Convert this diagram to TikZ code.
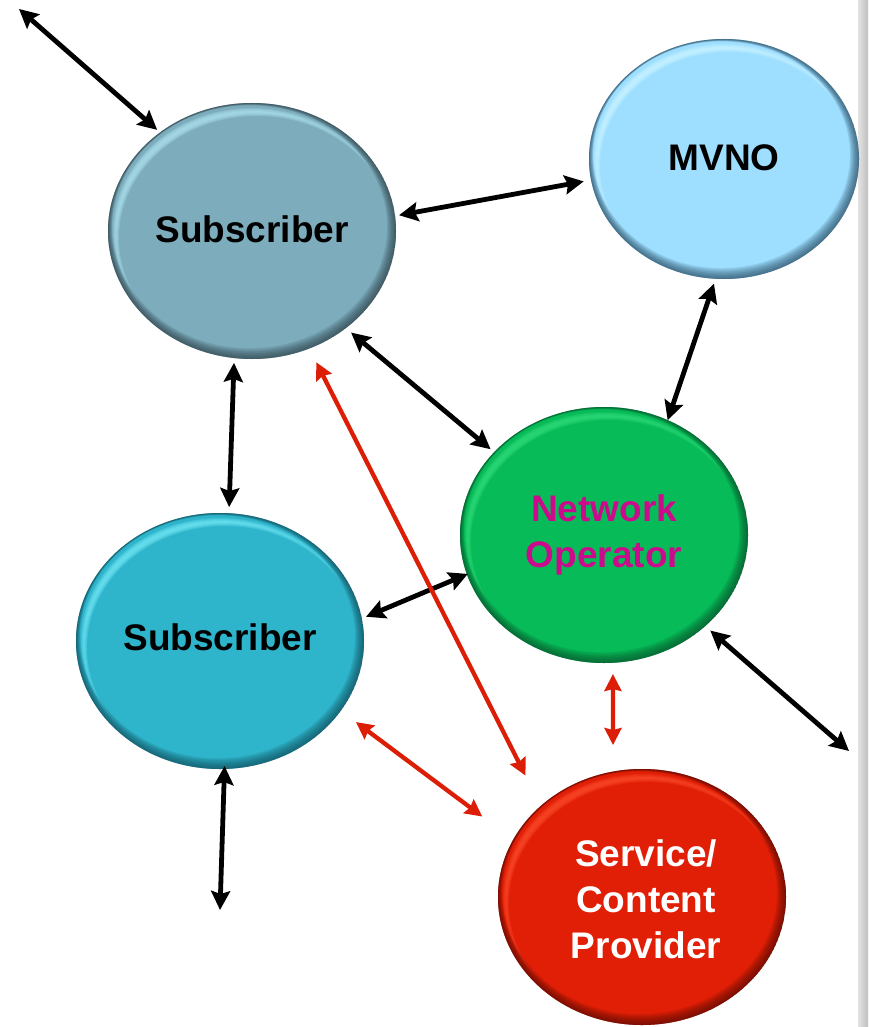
\documentclass[tikz,border=0pt]{standalone}
\usepackage{fontspec}
\setmainfont{Liberation Sans}
\usetikzlibrary{arrows.meta,shapes.geometric}
\definecolor{arrowred}{HTML}{DD1E06}
\definecolor{netmag}{HTML}{CC0A8C}
\definecolor{subonef}{HTML}{7DADBD}
\definecolor{suboneh}{HTML}{B4EAF6}
\definecolor{suboned}{HTML}{26383F}
\definecolor{mvnof}{HTML}{9EDEFF}
\definecolor{mvnoh}{HTML}{D0F8FF}
\definecolor{mvnod}{HTML}{1C3F55}
\definecolor{netf}{HTML}{07BC58}
\definecolor{neth}{HTML}{38E080}
\definecolor{netd}{HTML}{064A28}
\definecolor{subtwof}{HTML}{2EB5CC}
\definecolor{subtwoh}{HTML}{7CEEFC}
\definecolor{subtwod}{HTML}{0E4552}
\definecolor{provf}{HTML}{E11E06}
\definecolor{provh}{HTML}{FF5230}
\definecolor{provd}{HTML}{4E0A03}
\tikzset{
  blackarrow/.style={draw=black,line width=4.8pt,{Stealth[length=19pt,width=19pt,inset=3pt]}-{Stealth[length=19pt,width=19pt,inset=3pt]}},
  redarrow/.style={draw=arrowred,line width=4.3pt,{Stealth[length=17pt,width=17pt,inset=2pt]}-{Stealth[length=17pt,width=17pt,inset=2pt]}},
  bubbletext/.style={font=\fontsize{37}{46}\selectfont\bfseries,align=center,inner sep=0pt},
  anchorshape/.style={ellipse,inner sep=0pt,outer sep=0pt}
}
% name, cx, cy, rx, ry, fill, highlight, dark
\newcommand{\bubble}[8]{%
  \begin{scope}
    \clip (#2,#3) ellipse [x radius=#4,y radius=#5];
    \fill[#6] (#2,#3) ellipse [x radius=#4,y radius=#5];
    \foreach \k in {0,...,3}{%
      \pgfmathsetmacro{\ina}{5+\k}%
      \pgfmathsetmacro{\inb}{6-\k}%
      \begin{scope}
        \clip (#2,#3) ellipse [x radius=#4-\ina,y radius=#5-\ina];
        \fill[#7,opacity=0.24,even odd rule] ({#2-200},{#3-200}) rectangle ({#2+200},{#3+200})
          ({#2+5},{#3+7}) ellipse [x radius=#4-\inb,y radius=#5-\inb];
      \end{scope}
    }
    \foreach \k in {0,...,6}{%
      \pgfmathsetmacro{\ins}{0.5+\k*1.0}%
      \pgfmathsetmacro{\sx}{\k*0.4}%
      \pgfmathsetmacro{\sy}{\k*0.7}%
      \fill[#8,opacity=0.15,even odd rule] ({#2-200},{#3-200}) rectangle ({#2+200},{#3+200})
        ({#2-\sx},{#3-\sy}) ellipse [x radius=#4-\ins,y radius=#5-\ins];
    }
  \end{scope}
  \node[anchorshape,minimum width=2*#4 pt,minimum height=2*#5 pt] (#1) at (#2,#3) {};
}
\begin{document}
\begin{tikzpicture}[x=1pt,y=-1pt]
\useasboundingbox (0,0) rectangle (868,1027);
\fill[white] (0,0) rectangle (868,1027);
\shade[left color=white!78!gray,right color=white!50!gray] (858,0) rectangle (868,1027);

\bubble{subone}{252}{231}{144}{128}{subonef}{suboneh}{suboned}
\bubble{mvno}{724}{159}{135}{120}{mvnof}{mvnoh}{mvnod}
\bubble{net}{604}{535}{144}{128}{netf}{neth}{netd}
\bubble{subtwo}{220}{641}{144}{128}{subtwof}{subtwoh}{subtwod}
\bubble{prov}{642}{897}{144}{128}{provf}{provh}{provd}

\node[bubbletext,text=black] (subonet) at (252,229) {Subscriber};
\node[bubbletext,text=black] (mvnot) at (724,158) {MVNO};
\node[bubbletext,text=netmag] (nett) at (604,535) {Network\\Operator};
\node[bubbletext,text=black] (subtwot) at (220,637) {Subscriber};
\node[bubbletext,text=white] (provt) at (646,899) {Service/\\Content\\Provider};

\coordinate (freea) at (19,9);
\coordinate (freeb) at (220,910);
\coordinate (freec) at (849,751);

\draw[blackarrow,shorten >=3.9pt] (freea) -- (subone.133.2);
\draw[blackarrow,shorten <=4.1pt,shorten >=7.5pt] (subone.6.2) -- (mvno.189.7);
\draw[blackarrow,shorten >=5.2pt] (net.61.3) -- (mvno.266.8);
\draw[blackarrow,shorten <=6.9pt,shorten >=4.7pt] (subone.314.7) -- (net.143.9);
\draw[blackarrow,shorten <=4.9pt,shorten >=6.2pt] (subone.262.7) -- (subtwo.86.6);
\draw[blackarrow,shorten <=4.6pt,shorten >=-1pt] (subtwo.9.7) -- (net.196);
\draw[blackarrow,shorten <=-2.9pt] (subtwo.272.3) -- (freeb);
\draw[blackarrow,shorten <=6.8pt] (net.318.4) -- (freec);
\draw[redarrow,shorten <=15.5pt,shorten >=34pt] (subone.296.4) -- (prov.138.3);
\draw[redarrow,shorten <=11.25pt,shorten >=26.6pt] (net.274) -- (prov.103);
\draw[redarrow,shorten <=19pt,shorten >=38.7pt] (subtwo.330) -- (prov.156.3);
\end{tikzpicture}
\end{document}
